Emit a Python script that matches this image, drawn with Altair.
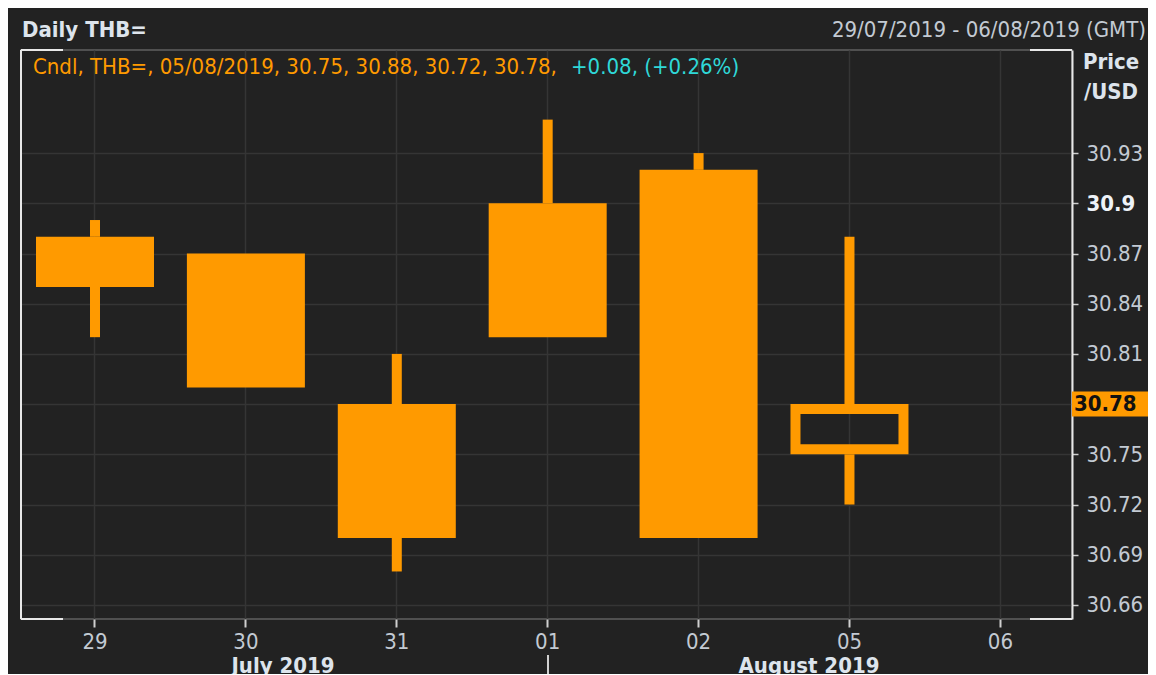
import altair as alt
import pandas as pd

# ---------------- data ----------------
days = ["29", "30", "31", "01", "02", "05", "06"]
candle_days = ["29", "30", "31", "01", "02", "05"]
opens = [30.88, 30.87, 30.78, 30.90, 30.92, 30.75]
highs = [30.89, 30.87, 30.81, 30.95, 30.93, 30.88]
lows = [30.82, 30.79, 30.68, 30.82, 30.70, 30.72]
closes = [30.85, 30.79, 30.70, 30.82, 30.70, 30.78]
y_ticks = [30.66, 30.69, 30.72, 30.75, 30.78, 30.81, 30.84, 30.87, 30.90, 30.93]
months = ["July 2019", "August 2019"]
title_text = ["Daily THB="]
range_text = ["29/07/2019 - 06/08/2019 (GMT)"]
legend_main = ["Cndl, THB=, 05/08/2019, 30.75, 30.88, 30.72, 30.78,"]
legend_change = ["+0.08, (+0.26%)"]
unit_lines = ["Price", "/USD"]
last_price = [30.78]

# ---------------- styles ----------------
ORANGE = "#ff9a00"
BG = "#222222"
GRID = "#353535"
LABEL = "#c3cad3"
CYAN = "#2fd8d8"
WHITE = "#e8e8e8"
FONT = "DejaVu Sans Condensed, Liberation Sans Narrow, DejaVu Sans"
FS = 22
W, H = 1051, 569

df = pd.DataFrame({"day": candle_days, "open": opens, "high": highs,
                   "low": lows, "close": closes})
df["top"] = df[["open", "close"]].max(axis=1)
df["bot"] = df[["open", "close"]].min(axis=1)

xscale = alt.Scale(domain=days, paddingInner=0.218, paddingOuter=0.0915, align=0.543)
yscale = alt.Scale(domain=[30.6516, 30.9916], nice=False, zero=False)

x_axis = alt.Axis(orient="bottom", grid=True, gridColor=GRID, gridWidth=1.5,
                  bandPosition=0.5, domain=False, ticks=True, tickColor="#cfcfcf",
                  tickWidth=2, tickSize=8, labelPadding=4, labelColor=LABEL,
                  labelFont=FONT, labelFontSize=FS, labelAngle=0, title=None)
y_axis = alt.Axis(orient="right", values=y_ticks, grid=True, gridColor=GRID, gridWidth=1.5,
                  domain=True, domainColor=WHITE, domainWidth=2, ticks=True,
                  tickColor="#cfcfcf", tickWidth=1.5, tickSize=6, labelPadding=8,
                  labelColor={"condition": {"test": "datum.value == 30.9", "value": "#eef3f8"},
                              "value": LABEL},
                  labelFontWeight={"condition": {"test": "datum.value == 30.9", "value": "bold"},
                                   "value": "normal"},
                  labelFont=FONT, labelFontSize=FS, labelBaseline="middle",
                  labelOverlap=False, labelFlush=False,
                  labelExpr="datum.value == 30.78 ? '' : toString(datum.value)",
                  title=None)

X = alt.X("day:N", sort=days, scale=xscale, axis=x_axis)

base = alt.Chart(df)

lower_wick = base.mark_rule(color=ORANGE, strokeWidth=10).encode(
    x=X, y=alt.Y("low:Q", scale=yscale, axis=y_axis), y2="bot:Q")
upper_wick = base.mark_rule(color=ORANGE, strokeWidth=10).encode(
    x=X, y=alt.Y("top:Q", scale=yscale, axis=y_axis), y2="high:Q")
filled = base.transform_filter("datum.close < datum.open").mark_bar(
    color=ORANGE).encode(
    x=X, y=alt.Y("top:Q", scale=yscale, axis=y_axis), y2="bot:Q")
hollow = base.transform_filter("datum.close >= datum.open").mark_bar(
    color=ORANGE, filled=False, strokeWidth=10, width=108, yOffset=5, y2Offset=-5).encode(
    x=X, y=alt.Y("top:Q", scale=yscale, axis=y_axis), y2="bot:Q")


def text_layer(txt, x, y, **kw):
    d = pd.DataFrame({"t": txt})
    return alt.Chart(d).mark_text(font=FONT, fontSize=FS, **kw).encode(
        text="t:N", x=alt.value(x), y=alt.value(y))


one = pd.DataFrame({"k": [0]})


def rule(x, y, x2, y2, color=WHITE, sw=2):
    return alt.Chart(one).mark_rule(color=color, strokeWidth=sw).encode(
        x=alt.value(x), y=alt.value(y), x2=alt.value(x2), y2=alt.value(y2))


borders = [
    rule(0, 0, 0, H),
    rule(0, 0, 42, 0),
    rule(W - 42, 0, W, 0),
    rule(0, H, 42, H),
    rule(W - 42, H, W, H),
    rule(527, 605, 527, 640, color="#d0d0d0"),
]

last_df = pd.DataFrame({"v": last_price, "t": ["30.78"]})
last_box = alt.Chart(last_df).mark_rule(color=ORANGE, strokeWidth=25).encode(
    y=alt.Y("v:Q", scale=yscale, axis=y_axis), x=alt.value(W), x2=alt.value(W + 79))
last_txt = alt.Chart(last_df).mark_text(font=FONT, fontSize=FS, fontWeight="bold",
                                         color="#111111", align="left", baseline="middle").encode(
    y=alt.Y("v:Q", scale=yscale, axis=y_axis), x=alt.value(W + 2), text="t:N")

texts = [
    text_layer(title_text, 1, -20, align="left", baseline="middle", fontWeight="bold", color="#dde4ec"),
    text_layer(range_text, 1125, -20, align="right", baseline="middle", color=LABEL),
    text_layer(legend_main, 12, 17, align="left", baseline="middle", color=ORANGE),
    text_layer(legend_change, 550, 17, align="left", baseline="middle", color=CYAN),
    text_layer([unit_lines[0]], 1090, 12, align="center", baseline="middle", fontWeight="bold", color="#dde4ec"),
    text_layer([unit_lines[1]], 1090, 42, align="center", baseline="middle", fontWeight="bold", color="#dde4ec"),
    text_layer([months[0]], 262, 616, align="center", baseline="middle", fontWeight="bold", color="#dde4ec"),
    text_layer([months[1]], 788, 616, align="center", baseline="middle", fontWeight="bold", color="#dde4ec"),
]

chart = alt.layer(lower_wick, upper_wick, filled, hollow, *borders, last_box, last_txt, *texts).properties(
    width=W, height=H,
    padding={"left": 13, "top": 42, "right": 76, "bottom": 55},
    autosize=alt.AutoSizeParams(type="none"),
    background=BG,
).configure_view(stroke="#505050", strokeWidth=2)

chart.save("out.html", embed_options={"renderer": "svg", "actions": False})
